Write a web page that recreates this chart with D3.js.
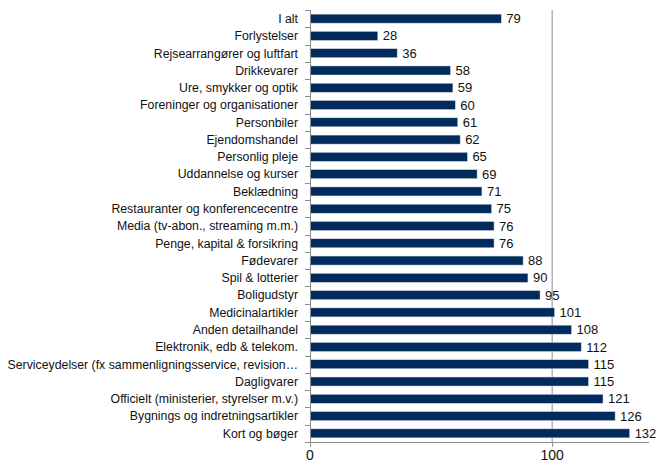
<!DOCTYPE html>
<html><head><meta charset="utf-8">
<script src="https://cdn.jsdelivr.net/npm/d3@7"></script>
<style>body{margin:0;background:#fff}svg{display:block}</style>
</head><body>
<script>
const categories = ["I alt","Forlystelser","Rejsearrangører og luftfart","Drikkevarer","Ure, smykker og optik","Foreninger og organisationer","Personbiler","Ejendomshandel","Personlig pleje","Uddannelse og kurser","Beklædning","Restauranter og konferencecentre","Media (tv-abon., streaming m.m.)","Penge, kapital & forsikring","Fødevarer","Spil & lotterier","Boligudstyr","Medicinalartikler","Anden detailhandel","Elektronik, edb & telekom.","Serviceydelser (fx sammenligningsservice, revision…","Dagligvarer","Officielt (ministerier, styrelser m.v.)","Bygnings og indretningsartikler","Kort og bøger"];
const values = [79,28,36,58,59,60,61,62,65,69,71,75,76,76,88,90,95,101,108,112,115,115,121,126,132];
const xTicks = [0,100];

const W=657,H=466;
const m={l:310,t:10,r:8,b:24};
const svg=d3.select("body").append("svg").attr("width",W).attr("height",H);
const x=d3.scaleLinear().domain([0,140]).range([m.l,m.l+339]);
const y=d3.scaleBand().domain(categories).range([m.t,H-m.b]).paddingInner(0.48).paddingOuter(0.24);
const font="'Liberation Sans', Arial, sans-serif";

// gridline at 100
svg.append("g").selectAll("line").data(xTicks.filter(d=>d>0)).join("line")
 .attr("x1",d=>x(d)).attr("x2",d=>x(d)).attr("y1",m.t).attr("y2",H-m.b)
 .attr("stroke","#8c8c8c").attr("stroke-width",1);

// bars
svg.append("g").selectAll("rect").data(values).join("rect")
 .attr("x",x(0)).attr("y",(d,i)=>y(categories[i]))
 .attr("width",d=>x(d)-x(0)).attr("height",y.bandwidth())
 .attr("fill","#002b5c").attr("stroke","#c9d3e0").attr("stroke-width",0.5);

// value labels
svg.append("g").selectAll("text").data(values).join("text")
 .attr("x",d=>x(d)+5).attr("y",(d,i)=>y(categories[i])+y.bandwidth()/2)
 .attr("dy","0.35em").attr("font-family",font).attr("font-size",13).attr("fill","#111")
 .text(d=>d);

// y axis
const yStep=y.step();
const ya=svg.append("g");
ya.append("line").attr("x1",m.l+0.5).attr("x2",m.l+0.5).attr("y1",m.t).attr("y2",H-m.b).attr("stroke","#8c8c8c");
ya.selectAll("line.t").data(d3.range(categories.length+1)).join("line").attr("class","t")
 .attr("x1",m.l-5).attr("x2",m.l).attr("y1",i=>Math.round(m.t+i*yStep)+0.5).attr("y2",i=>Math.round(m.t+i*yStep)+0.5)
 .attr("stroke","#8c8c8c");
ya.selectAll("text").data(categories).join("text")
 .attr("x",m.l-12).attr("y",d=>y(d)+y.bandwidth()/2).attr("dy","0.35em")
 .attr("text-anchor","end").attr("font-family",font).attr("font-size",12.3).attr("fill","#111")
 .text(d=>d);

// x axis
const xa=svg.append("g").attr("transform",`translate(0,${H-m.b})`);
xa.append("line").attr("x1",m.l).attr("x2",x(140)).attr("y1",0.5).attr("y2",0.5).attr("stroke","#8c8c8c");
xa.selectAll("line.t").data(d3.range(0,141,100)).join("line").attr("class","t")
 .attr("x1",d=>x(d)+0.5).attr("x2",d=>x(d)+0.5).attr("y1",0).attr("y2",5).attr("stroke","#8c8c8c");
xa.selectAll("text").data(xTicks).join("text")
 .attr("x",d=>x(d)).attr("y",18).attr("text-anchor","middle")
 .attr("font-family",font).attr("font-size",14).attr("fill","#111").text(d=>d);
</script>
</body></html>
